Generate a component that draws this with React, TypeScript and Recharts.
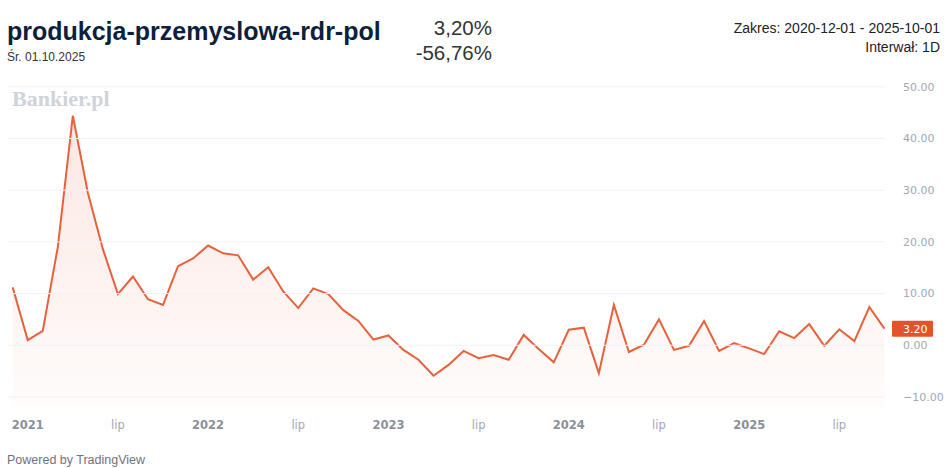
import React from 'react';
import { ComposedChart, Area, XAxis, YAxis, ReferenceLine } from 'recharts';

// Monthly observations, 2020-12 .. 2025-10
const months = [
  '2020-12',
  '2021-01', '2021-02', '2021-03', '2021-04', '2021-05', '2021-06', '2021-07', '2021-08', '2021-09', '2021-10', '2021-11', '2021-12',
  '2022-01', '2022-02', '2022-03', '2022-04', '2022-05', '2022-06', '2022-07', '2022-08', '2022-09', '2022-10', '2022-11', '2022-12',
  '2023-01', '2023-02', '2023-03', '2023-04', '2023-05', '2023-06', '2023-07', '2023-08', '2023-09', '2023-10', '2023-11', '2023-12',
  '2024-01', '2024-02', '2024-03', '2024-04', '2024-05', '2024-06', '2024-07', '2024-08', '2024-09', '2024-10', '2024-11', '2024-12',
  '2025-01', '2025-02', '2025-03', '2025-04', '2025-05', '2025-06', '2025-07', '2025-08', '2025-09', '2025-10',
];

const values = [
  11.2,
  1.0, 2.8, 19.0, 44.4, 29.5, 18.6, 9.9, 13.3, 8.9, 7.8, 15.3, 16.8,
  19.3, 17.8, 17.4, 12.7, 15.1, 10.4, 7.2, 11.0, 9.9, 6.8, 4.7, 1.1,
  1.9, -0.9, -2.8, -5.9, -3.8, -1.1, -2.5, -1.9, -2.8, 2.0, -0.7, -3.3,
  3.0, 3.4, -5.4, 7.8, -1.3, 0.1, 5.0, -0.9, -0.1, 4.7, -1.1, 0.4,
  -0.6, -1.7, 2.7, 1.4, 4.1, -0.1, 3.1, 0.8, 7.4, 3.2,
];

const xTickIndices = [1, 7, 13, 19, 25, 31, 37, 43, 49, 55];
const xTickLabels = ['2021', 'lip', '2022', 'lip', '2023', 'lip', '2024', 'lip', '2025', 'lip'];
const yTicks = [50, 40, 30, 20, 10, 0, -10];
const lastValue = 3.2;

const data = values.map((v, i) => ({ i, month: months[i], v }));

const LINE = '#e8613b';
const LABEL_BG = '#e2532b';
const AXIS_FONT = '"DejaVu Sans", sans-serif';

const fmtY = (v: number) => (v < 0 ? '\u2212' + Math.abs(v).toFixed(2) : v.toFixed(2));

const XTick = (props: any) => {
  const { x, y, payload } = props;
  const idx = xTickIndices.indexOf(payload.value);
  const label = idx >= 0 ? xTickLabels[idx] : '';
  const isYear = label !== 'lip';
  return (
    <text
      x={x}
      y={y}
      dy="0.35em"
      textAnchor="middle"
      fontFamily={AXIS_FONT}
      fontSize={11.5}
      fontWeight={isYear ? 700 : 400}
      fill={isYear ? '#8a909d' : '#a2a8b4'}
    >
      {label}
    </text>
  );
};

const YTick = (props: any) => {
  const { x, y, payload } = props;
  return (
    <text x={x} y={y} dy="0.35em" textAnchor="start" fontFamily={AXIS_FONT} fontSize={11} fill="#a2a8b4">
      {fmtY(payload.value)}
    </text>
  );
};

const PriceLabel = (props: any) => {
  const vb = props.viewBox || {};
  const right = (vb.x || 0) + (vb.width || 0);
  const cy = vb.y || 0;
  return (
    <g>
      <rect x={right + 7} y={cy - 8} width={41} height={16} fill={LABEL_BG} rx={1} />
      <text x={right + 18} y={cy} dy="0.35em" textAnchor="start" fontFamily={AXIS_FONT} fontSize={11} fill="#ffffff">
        {lastValue.toFixed(2)}
      </text>
    </g>
  );
};

export default function App() {
  return (
    <div style={{ position: 'absolute', left: 0, top: 0, width: 948, height: 468, background: '#ffffff', overflow: 'hidden' }}>
      <ComposedChart
        width={948}
        height={468}
        data={data}
        margin={{ top: 76.5, right: 0, bottom: 30.7, left: 8 }}
      >
        <defs>
          <linearGradient id="areaFill" x1="0" y1="0" x2="0" y2="1">
            <stop offset="0%" stopColor={LINE} stopOpacity={0.15} />
            <stop offset="100%" stopColor={LINE} stopOpacity={0.02} />
          </linearGradient>
        </defs>
        {yTicks.map((t) => (
          <ReferenceLine key={t} y={t} stroke="#f0f2f5" strokeWidth={1} />
        ))}
        <XAxis
          dataKey="i"
          type="number"
          domain={[-0.313, 58.04]}
          allowDataOverflow
          ticks={xTickIndices}
          interval={0}
          axisLine={false}
          tickLine={false}
          tickSize={0}
          tickMargin={18}
          height={30}
          tick={<XTick />}
        />
        <YAxis
          orientation="right"
          type="number"
          domain={[-12, 52]}
          allowDataOverflow
          ticks={yTicks}
          interval={0}
          axisLine={false}
          tickLine={false}
          tickSize={0}
          tickMargin={18}
          width={63}
          tick={<YTick />}
        />
        <Area
          type="linear"
          dataKey="v"
          stroke={LINE}
          strokeWidth={2}
          fill="url(#areaFill)"
          fillOpacity={1}
          baseValue="dataMin"
          dot={false}
          activeDot={false}
          isAnimationActive={false}
        />
        <ReferenceLine y={lastValue} stroke="none" ifOverflow="visible" label={(p: any) => <PriceLabel {...p} />} />
      </ComposedChart>
      <svg
        width={948}
        height={468}
        style={{ position: 'absolute', left: 0, top: 0, pointerEvents: 'none' }}
      >
        <text x={7} y={40} fontFamily='"Liberation Sans", Arial, sans-serif' fontSize={25} fontWeight={700} fill="#0d1f3d">
          produkcja-przemyslowa-rdr-pol
        </text>
        <text x={7} y={61} fontFamily='"Liberation Sans", Arial, sans-serif' fontSize={12} fill="#333333">
          Śr. 01.10.2025
        </text>
        <text x={492} y={35} textAnchor="end" fontFamily='"Liberation Sans", Arial, sans-serif' fontSize={20.5} fill="#333333">
          3,20%
        </text>
        <text x={492} y={60} textAnchor="end" fontFamily='"Liberation Sans", Arial, sans-serif' fontSize={20.5} fill="#333333">
          -56,76%
        </text>
        <text x={940} y={33} textAnchor="end" fontFamily='"Liberation Sans", Arial, sans-serif' fontSize={14} fill="#222222">
          Zakres: 2020-12-01 - 2025-10-01
        </text>
        <text x={940} y={52} textAnchor="end" fontFamily='"Liberation Sans", Arial, sans-serif' fontSize={14} fill="#222222">
          Interwał: 1D
        </text>
        <text x={12} y={106} fontFamily='"Liberation Serif", Georgia, serif' fontSize={22} fontWeight={700} fill="#cfd3da">
          Bankier.pl
        </text>
        <text x={7} y={464} fontFamily='"Liberation Sans", Arial, sans-serif' fontSize={12.5} fill="#6f7280">
          Powered by TradingView
        </text>
      </svg>
    </div>
  );
}
